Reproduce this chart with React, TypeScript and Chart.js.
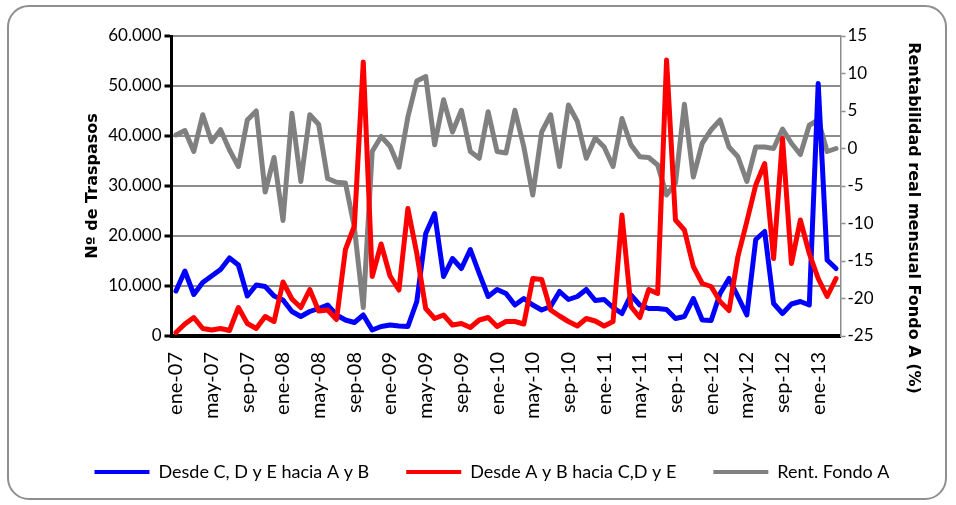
import React, { useEffect, useRef } from 'react';
import { Chart, registerables } from 'chart.js';

Chart.register(...registerables);

const FONT = "Lato, 'Open Sans', sans-serif";
const TITLE_FONT = "'DejaVu Sans', Verdana, sans-serif";

const MONTHS = ['ene', 'feb', 'mar', 'abr', 'may', 'jun', 'jul', 'ago', 'sep', 'oct', 'nov', 'dic'];
const YEARS = ['07', '08', '09', '10', '11', '12', '13'];
const N_MONTHS = 75; // ene-07 .. mar-13

const categories: string[] = [];
YEARS.forEach((y) => MONTHS.forEach((m) => categories.push(`${m}-${y}`)));
categories.length = N_MONTHS;

// Nº de traspasos desde C, D y E hacia A y B
const haciaAB = [
  9000, 13000, 8300, 10700, 12000, 13300, 15600, 14200, 8000, 10200,
  9900, 8000, 7200, 4900, 3900, 4900, 5500, 6200, 4200, 3200,
  2700, 4200, 1200, 1900, 2200, 2000, 1900, 6900, 20500, 24500,
  11900, 15500, 13500, 17300, 12500, 7900, 9300, 8500, 6200, 7500,
  6200, 5200, 5900, 8900, 7300, 7900, 9300, 7100, 7300, 5700,
  4500, 8200, 6200, 5500, 5500, 5300, 3500, 3900, 7500, 3200,
  3100, 8500, 11500, 7900, 4200, 19300, 20900, 6500, 4500, 6400,
  6900, 6200, 50500, 15200, 13500,
];

// Nº de traspasos desde A y B hacia C, D y E
const haciaCDE = [
  700, 2400, 3700, 1500, 1200, 1500, 1100, 5700, 2500, 1500,
  3900, 2900, 10800, 7400, 5700, 9300, 5000, 5200, 3300, 17300,
  22000, 54800, 11900, 18400, 12000, 9200, 25500, 16500, 5500, 3500,
  4200, 2200, 2500, 1700, 3200, 3700, 1900, 2900, 2900, 2400,
  11500, 11300, 5200, 4000, 2900, 2000, 3500, 3000, 2000, 2900,
  24200, 5900, 3700, 9300, 8500, 55200, 23200, 21200, 13900, 10500,
  9900, 6900, 5100, 15900, 22900, 30200, 34500, 15500, 39500, 14500,
  23200, 16500, 11500, 7900, 11500,
];

// Rentabilidad real mensual Fondo A (%)
const rentFondoA = [
  1.8, 2.4, -0.4, 4.5, 0.9, 2.5, -0.2, -2.4, 3.8, 5.0,
  -5.8, -1.2, -9.6, 4.7, -4.4, 4.5, 3.2, -4.0, -4.5, -4.6,
  -10.5, -21.2, -0.4, 1.6, 0.3, -2.5, 4.2, 9.0, 9.6, 0.5,
  6.5, 2.2, 5.1, -0.4, -1.3, 4.9, -0.4, -0.6, 5.1, 0.2,
  -6.2, 2.2, 4.5, -2.4, 5.8, 3.6, -1.3, 1.4, 0.2, -2.4,
  4.0, 0.5, -1.1, -1.2, -2.2, -6.2, -4.6, 5.9, -3.8, 0.7,
  2.5, 3.8, 0.2, -1.1, -4.4, 0.2, 0.2, 0.0, 2.6, 0.7,
  -0.8, 3.1, 3.8, -0.4, 0.0,
];

const leftTicks = { min: 0, max: 60000, step: 10000 };
const rightTicks = { min: -25, max: 15, step: 5 };

const seriesNames = ['Desde C, D y E hacia A y B', 'Desde A y B hacia C,D y E', 'Rent. Fondo A'];
const leftTitle = 'Nº de Traspasos';
const rightTitle = 'Rentabilidad real mensual Fondo A (%)';

const fmtThousands = (v: number) => {
  if (v === 0) return '0';
  const s = String(Math.round(v));
  return s.replace(/\B(?=(\d{3})+(?!\d))/g, '.');
};

const rightTitlePlugin = {
  id: 'rightTitle',
  afterDraw(chart: any) {
    const { ctx, chartArea } = chart;
    ctx.save();
    ctx.font = `bold 16px ${TITLE_FONT}`;
    ctx.fillStyle = '#000';
    ctx.textAlign = 'center';
    ctx.textBaseline = 'middle';
    ctx.translate(913, chartArea.top + 182);
    ctx.rotate(Math.PI / 2);
    ctx.fillText(rightTitle, 0, 0);
    ctx.restore();
  },
};

export default function App() {
  const ref = useRef<HTMLCanvasElement | null>(null);

  useEffect(() => {
    if (!ref.current) return;
    Chart.defaults.font.family = FONT;
    const chart = new Chart(ref.current, {
      type: 'line',
      data: {
        labels: categories,
        datasets: [
          {
            label: seriesNames[0],
            data: haciaAB,
            borderColor: '#0000ff',
            backgroundColor: '#0000ff',
            borderWidth: 5,
            pointRadius: 0,
            tension: 0,
            borderJoinStyle: 'round',
            borderCapStyle: 'round',
            yAxisID: 'y',
            order: 1,
          },
          {
            label: seriesNames[1],
            data: haciaCDE,
            borderColor: '#ff0000',
            backgroundColor: '#ff0000',
            borderWidth: 5,
            pointRadius: 0,
            tension: 0,
            borderJoinStyle: 'round',
            borderCapStyle: 'round',
            yAxisID: 'y',
            order: 0,
          },
          {
            label: seriesNames[2],
            data: rentFondoA,
            borderColor: '#808080',
            backgroundColor: '#808080',
            borderWidth: 5,
            pointRadius: 0,
            tension: 0,
            borderJoinStyle: 'round',
            borderCapStyle: 'round',
            yAxisID: 'y1',
            order: 2,
          },
        ],
      },
      options: {
        responsive: false,
        animation: false,
        devicePixelRatio: 1,
        layout: { padding: { left: 28, right: 0, top: 36, bottom: 14 } },
        plugins: {
          tooltip: { enabled: false },
          legend: {
            position: 'bottom',
            labels: {
              usePointStyle: true,
              pointStyle: 'line',
              pointStyleWidth: 55,
              padding: 37,
              color: '#000',
              font: { family: FONT, size: 18 },
              sort: (a: any, b: any) => a.datasetIndex - b.datasetIndex,
              generateLabels: (c: any) =>
                (Chart.defaults.plugins.legend.labels.generateLabels as any)(c).map((l: any) => ({
                  ...l,
                  lineWidth: 4,
                  lineCap: 'butt',
                })),
            },
          },
        },
        scales: {
          x: {
            type: 'category',
            offset: true,
            grid: { display: false },
            border: { display: true, color: '#000', width: 4 },
            ticks: {
              autoSkip: false,
              maxRotation: 90,
              minRotation: 90,
              padding: 8,
              color: '#000',
              font: { family: FONT, size: 20 },
              callback: (_v: any, i: number) => (i % 4 === 0 ? categories[i] : ''),
            },
            afterFit: (s: any) => {
              s.height = 90;
            },
          },
          y: {
            position: 'left',
            min: leftTicks.min,
            max: leftTicks.max,
            ticks: {
              stepSize: leftTicks.step,
              padding: 3,
              color: '#000',
              font: { family: FONT, size: 17 },
              callback: (v: any) => fmtThousands(Number(v)),
            },
            grid: {
              color: '#8c8c8c',
              lineWidth: 2,
              drawTicks: true,
              tickLength: 7,
              tickColor: '#000',
              tickWidth: 3,
            },
            border: { display: true, color: '#000', width: 3 },
            title: {
              display: true,
              text: leftTitle,
              color: '#000',
              font: { family: TITLE_FONT, size: 16, weight: 'bold' },
              padding: { top: 55, bottom: 0 },
            },
            afterFit: (s: any) => {
              s.width = 143.5;
            },
          },
          y1: {
            position: 'right',
            min: rightTicks.min,
            max: rightTicks.max,
            ticks: {
              stepSize: rightTicks.step,
              padding: 2,
              color: '#000',
              font: { family: FONT, size: 17 },
            },
            grid: {
              drawOnChartArea: false,
              drawTicks: true,
              tickLength: 5,
              tickColor: '#8c8c8c',
              tickWidth: 1.5,
            },
            border: { display: true, color: '#8c8c8c', width: 1.5 },
            title: { display: false },
            afterFit: (s: any) => {
              s.width = 115.5;
            },
          },
        },
      } as any,
      plugins: [rightTitlePlugin],
    });
    return () => chart.destroy();
  }, []);

  return (
    <div style={{ position: 'fixed', left: 0, top: 0, width: 956, height: 505, background: '#fff' }}>
      <div
        style={{
          position: 'absolute',
          left: 7,
          top: 5,
          width: 940,
          height: 495,
          border: '2px solid #8f8f8f',
          borderRadius: 22,
          boxSizing: 'border-box',
        }}
      />
      <canvas ref={ref} width={956} height={505} style={{ position: 'absolute', left: 0, top: 0, width: 956, height: 505 }} />
    </div>
  );
}
